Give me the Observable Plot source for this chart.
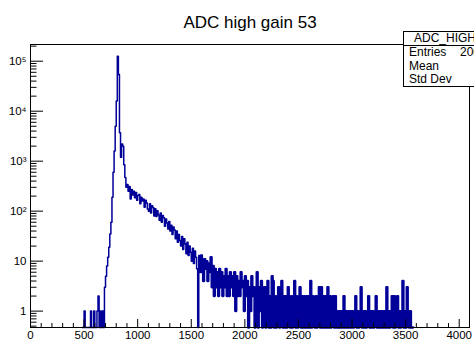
<!DOCTYPE html>
<html><head><meta charset="utf-8">
<script src="https://cdn.jsdelivr.net/npm/d3@7"></script>
<script src="https://cdn.jsdelivr.net/npm/@observablehq/plot@0.6"></script>
<style>
html,body{margin:0;padding:0;background:#fff;overflow:hidden;}
#chart{position:relative;width:474px;height:342px;}
</style></head><body><div id="chart"></div>
<script>
const title = "ADC high gain 53";
const binStart = 480;
const binWidth = 10;
const counts = [
  0,0,1,0,0,0,0,0,1,0,
  0,1,0,0,1,2,0,1,0,1,
  0,3,5,8,12,19,35,60,190,600,
  1600,5000,16000,125000,54000,3700,1200,2200,2000,850,
  470,300,340,250,310,175,270,210,250,185,
  235,165,205,215,140,190,160,175,120,165,
  145,110,100,140,92,128,118,80,112,78,
  102,84,66,92,60,82,74,50,70,58,
  44,62,40,52,34,48,42,28,40,24,
  34,26,20,31,17,28,22,14,24,13,
  20,15,10,18,9,16,12,7,0,13,
  6,13,9,4,11,7,10,4,9,6,
  12,3,8,2,7,3,6,2,7,3,
  6,2,5,3,7,2,5,2,6,3,
  5,2,6,1,5,2,4,2,6,3,
  4,1,5,2,4,0,3,1,5,2,
  3,0,2,6,0,3,1,4,0,2,
  3,0,2,4,0,2,0,5,4,0,
  2,0,2,3,0,2,4,0,2,0,
  2,0,3,1,0,2,0,2,4,0,
  2,0,1,3,0,2,0,2,0,2,
  0,2,0,4,0,2,1,0,2,0,
  2,3,0,3,0,2,0,2,0,3,
  0,2,0,1,2,0,2,0,1,0,
  1,0,1,0,2,0,1,0,1,0,
  1,0,1,0,1,2,0,1,0,1,
  3,0,1,0,1,0,1,2,0,1,
  0,1,0,1,2,0,1,0,1,0,
  1,0,1,0,3,0,1,0,1,2,
  0,2,0,1,2,0,1,0,1,4,
  0,1,0,3,1,0,1,0,0,0
];
const tailFrom = 1580;
const xDomain = [0, 4096];
const yDomain = [0.47, 2.16e5];
const xMajorTicks = [0,500,1000,1500,2000,2500,3000,3500,4000];
const xTickLabels = ["0","500","1000","1500","2000","2500","3000","3500","4000"];
const yMajorTicks = [1,10,100,1000,10000,100000];
const yTickLabels = ["1","10","10\u00B2","10\u00B3","10\u2074","10\u2075"];
const statsName = "ADC_HIGH";
const statsRows = ["Entries","Mean","Std Dev"];
const statsEntries = "200000";

const W = 474, H = 342, mL = 30, mR = 5, mT = 44, mB = 15;
const fw = W - mL - mR, fh = H - mT - mB;

const data = counts.map((c, i) => ({x: binStart + i * binWidth, y: Math.max(c, yDomain[0])}));
const head = data.filter(d => d.x <= tailFrom);
const tail = data.filter(d => d.x >= tailFrom);
const minorX = d3.range(0, 4001, 100).filter(v => v % 500 !== 0);
const minorY = [];
for (let n = -1; n <= 5; n++) for (let k = 2; k <= 9; k++) {
  const v = k * Math.pow(10, n);
  if (v >= yDomain[0] && v <= yDomain[1]) minorY.push(v);
}
const xLab = new Map(xMajorTicks.map((d, i) => [d, xTickLabels[i]]));
const yLab = new Map(yMajorTicks.map((d, i) => [d, yTickLabels[i]]));

const svg = Plot.plot({
  width: W, height: H,
  marginLeft: mL, marginRight: mR, marginTop: mT, marginBottom: mB,
  style: {fontFamily: "'Liberation Sans', Arial, sans-serif", background: "white", overflow: "visible"},
  x: {domain: xDomain},
  y: {type: "log", domain: yDomain},
  marks: [
    Plot.line(head, {x: "x", y: "y", curve: "step-after", stroke: "#000099", strokeWidth: 1.5}),
    Plot.line(tail, {x: "x", y: "y", curve: "step-after", stroke: "#000099", strokeWidth: 2.3}),
    Plot.ruleX(xMajorTicks, {insetTop: fh - 8, stroke: "#000"}),
    Plot.ruleX(minorX, {insetTop: fh - 4, stroke: "#000"}),
    Plot.ruleY(yMajorTicks, {insetRight: fw - 13, stroke: "#000"}),
    Plot.ruleY(minorY, {insetRight: fw - 6.5, stroke: "#000"}),
    Plot.frame({stroke: "#000"}),
    Plot.axisX(xMajorTicks, {tickSize: 0, tickPadding: 3, fontSize: 11.5, label: null, tickFormat: d => xLab.get(d), fill: "#000"}),
    Plot.axisY(yMajorTicks, {tickSize: 0, tickPadding: 4, fontSize: 11.5, label: null, tickFormat: d => yLab.get(d), fill: "#000"}),
    Plot.text([title], {frameAnchor: "top", lineAnchor: "bottom", dy: -17, fontSize: 17, fill: "#000"})
  ]
});

const g = d3.select(svg).append("g")
  .attr("font-family", "'Liberation Sans', Arial, sans-serif")
  .attr("font-size", 12)
  .attr("text-anchor", "start")
  .attr("fill", "#000");
g.append("rect").attr("x", 403.5).attr("y", 31.5).attr("width", 120).attr("height", 55).attr("fill", "white").attr("stroke", "#000");
g.append("line").attr("x1", 403.5).attr("x2", 530).attr("y1", 45.5).attr("y2", 45.5).attr("stroke", "#000");
g.append("text").attr("x", 414).attr("y", 42).text(statsName);
const rowY = [56, 69.5, 83];
statsRows.forEach((t, i) => g.append("text").attr("x", 409).attr("y", rowY[i]).text(t));
g.append("text").attr("x", 460).attr("y", rowY[0]).text(statsEntries);

document.getElementById("chart").appendChild(svg);
</script>
</body></html>
